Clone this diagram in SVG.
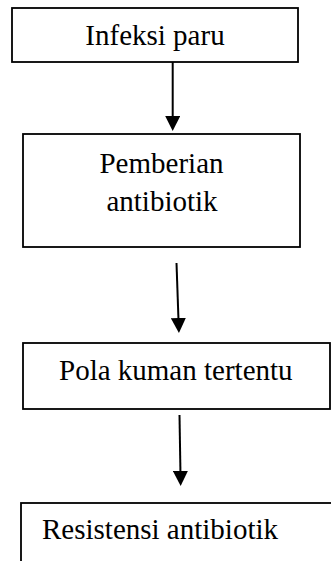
<svg xmlns="http://www.w3.org/2000/svg" width="331" height="561" viewBox="0 0 331 561">
  <style>
    .box { fill: #ffffff; stroke: #000000; stroke-width: 1.8; }
    .lbl { font-family: "Liberation Serif", "Times New Roman", serif; font-size: 29px; fill: #000000; }
    .conn { fill: none; stroke: #000000; stroke-width: 2; }
  </style>
  <defs>
    <marker id="arrow" viewBox="0 0 15 15" refX="5" refY="7.5" markerWidth="15" markerHeight="15" markerUnits="userSpaceOnUse" orient="auto">
      <path d="M0,0 L15,7.5 L0,15 Z" fill="#000000"/>
    </marker>
  </defs>
  <rect width="331" height="561" fill="#ffffff"/>
  <g id="node-infeksi">
    <rect class="box" x="12" y="8" width="286" height="54"/>
    <text class="lbl" x="155" y="44.5" text-anchor="middle">Infeksi paru</text>
  </g>
  <g id="node-pemberian">
    <rect class="box" x="23" y="134" width="277" height="113"/>
    <text class="lbl" x="161.5" y="173" text-anchor="middle">Pemberian</text>
    <text class="lbl" x="162" y="211" text-anchor="middle">antibiotik</text>
  </g>
  <g id="node-pola">
    <rect class="box" x="23" y="343" width="307" height="66"/>
    <text class="lbl" x="59" y="380">Pola kuman tertentu</text>
  </g>
  <g id="node-resistensi">
    <rect class="box" x="21" y="503" width="330" height="80"/>
    <text class="lbl" x="42" y="539">Resistensi antibiotik</text>
  </g>
  <g id="connectors">
    <path class="conn" d="M172.7,62 L172.7,121" marker-end="url(#arrow)"/>
    <path class="conn" d="M176.5,263 L178.6,323" marker-end="url(#arrow)"/>
    <path class="conn" d="M179.5,415 L180.5,476" marker-end="url(#arrow)"/>
  </g>
</svg>
